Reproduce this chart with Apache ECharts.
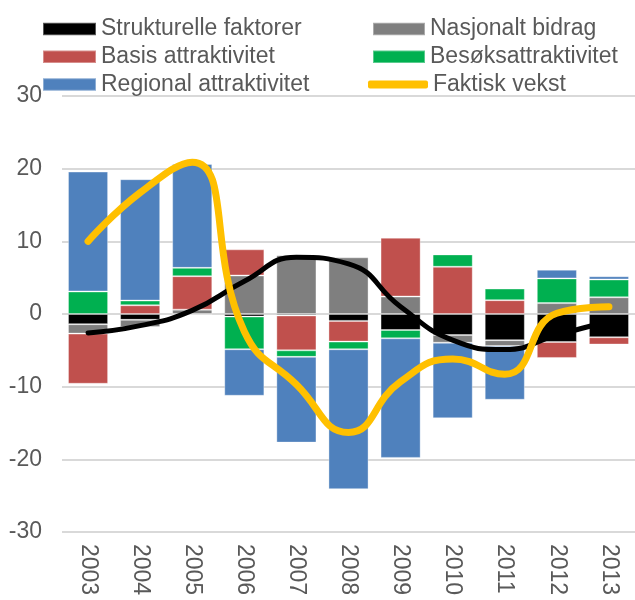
<!DOCTYPE html>
<html>
<head>
<meta charset="utf-8">
<script src="https://cdn.jsdelivr.net/npm/echarts@6/dist/echarts.min.js"></script>
<style>
html,body{margin:0;padding:0;background:#fff;}
#chart{width:635px;height:600px;}
</style>
</head>
<body>
<div id="chart"></div>
<script>
const categories = ['2003','2004','2005','2006','2007','2008','2009','2010','2011','2012','2013'];
const strukturelle = [-1.4, -0.8, 0, -0.35, -0.2, -0.95, -2.2, -2.9, -3.6, -3.85, -3.2];
const nasjonalt = [-1.3, -1.0, 0.6, 5.3, 8.1, 7.8, 2.4, -1.05, -0.8, 1.5, 2.3];
const basis = [-6.9, 1.2, 4.6, 3.6, -4.8, -2.85, 8.1, 6.5, 1.9, -2.2, -1.0];
const besok = [3.1, 0.65, 1.15, -4.5, -0.9, -1.05, -1.15, 1.7, 1.6, 3.4, 2.45];
const regional = [16.5, 16.7, 14.3, -6.4, -11.8, -19.25, -16.45, -10.4, -7.4, 1.2, 0.45];
const forventet = [-2.6, -1.6, 0.5, 4.5, 7.8, 6.9, 1.0, -3.6, -4.9, -2.9, -1.0];
const faktisk = [10.0, 16.7, 20.9, -2.4, -9.7, -16.3, -9.3, -6.2, -8.3, 0.1, 1.0];
const yTicks = [-30, -20, -10, 0, 10, 20, 30];

const names = ['Strukturelle faktorer','Nasjonalt bidrag','Basis attraktivitet','Besøksattraktivitet','Regional attraktivitet','Faktisk vekst'];
const colors = ['#000000','#7f7f7f','#c0504d','#00b050','#4f81bd','#ffc000'];

const FONT = 'Liberation Sans, Arial, sans-serif';
const chart = echarts.init(document.getElementById('chart'));
const txt = {color:'#595959', fontSize:23, fontFamily:FONT, lineHeight:24};
const barSeries = [strukturelle, nasjonalt, basis, besok, regional].map((d,i)=>({
  name: names[i], type:'bar', stack:'total', data:d, barWidth:'77%',
  itemStyle:{color:colors[i], borderColor:'rgba(255,255,255,0.35)', borderWidth:1},
  emphasis:{disabled:true}
}));
chart.setOption({
  animation:false,
  legend:[
    {data:[names[0],names[2],names[4]], orient:'vertical', left:37, top:12, itemWidth:53, itemHeight:12.5, itemGap:3.8, itemTextGap:6, icon:'rect', textStyle:txt, selectedMode:false},
    {data:[names[1],names[3]], orient:'vertical', left:367, top:12, itemWidth:52, itemHeight:12.5, itemGap:3.8, itemTextGap:6, icon:'rect', textStyle:txt, selectedMode:false},
    {data:[{name:names[5], icon:'roundRect'}], left:363, top:67.5, itemWidth:60, itemHeight:8, itemTextGap:2, textStyle:txt, selectedMode:false}
  ],
  grid:{left:62, right:0, top:96, bottom:68, containLabel:false},
  xAxis:{type:'category', data:categories, axisLine:{show:false, onZero:false}, axisTick:{show:false},
    axisLabel:{rotate:-90, color:'#595959', fontSize:23, fontFamily:FONT, margin:12, interval:0}},
  yAxis:{type:'value', min:yTicks[0], max:yTicks[yTicks.length-1], interval:10,
    axisLine:{show:false}, axisTick:{show:false},
    axisLabel:{color:'#595959', fontSize:23, fontFamily:FONT, margin:20},
    splitLine:{lineStyle:{color:'#d9d9d9', width:2}}},
  series: barSeries.concat([
    {name:'Forventet vekst', type:'line', data:forventet, smooth:0.5, symbol:'none', lineStyle:{color:'#000000', width:5, cap:'round'}, itemStyle:{color:'#000'}, z:3},
    {name:names[5], type:'line', data:faktisk, smooth:0.5, symbol:'none', lineStyle:{color:'#ffc000', width:7, cap:'round'}, itemStyle:{color:'#ffc000'}, z:4}
  ])
});
</script>
</body>
</html>
